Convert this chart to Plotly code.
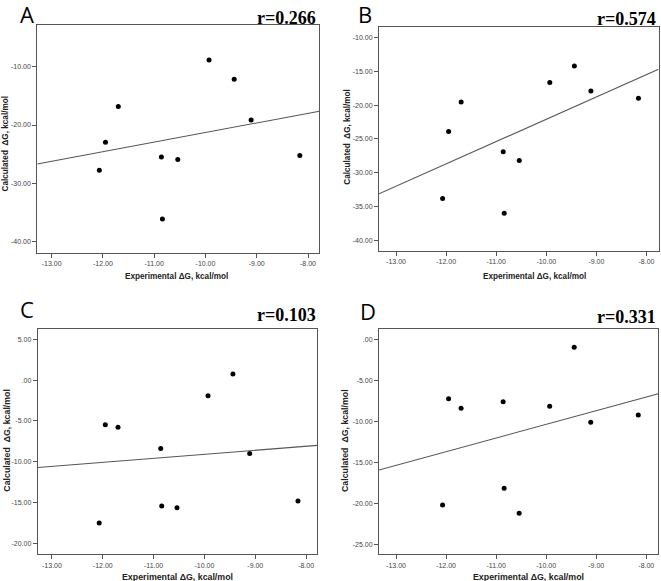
import numpy as np
import plotly.graph_objects as go

# ---- data ----
exp_dg = [-12.07, -11.95, -11.70, -10.86, -10.84, -10.54, -9.93, -9.44, -9.11, -8.16]
calc_a = [-27.77, -22.97, -16.80, -25.49, -36.11, -25.89, -8.86, -12.17, -19.14, -25.20]
calc_b = [-33.84, -23.89, -19.51, -26.90, -36.00, -28.18, -16.65, -14.19, -17.88, -18.97]
calc_c = [-17.52, -5.47, -5.76, -8.37, -15.44, -15.65, -1.92, 0.74, -8.99, -14.83]
calc_d = [-20.20, -7.24, -8.41, -7.60, -18.17, -21.22, -8.17, -0.98, -10.12, -9.23]

panel_letters = ["A", "B", "C", "D"]
r_labels = ["r=0.266", "r=0.574", "r=0.103", "r=0.331"]

x_tick_vals = [-13, -12, -11, -10, -9, -8]
x_tick_text = ["-13.00", "-12.00", "-11.00", "-10.00", "-9.00", "-8.00"]
y_tick_vals_a = [-10, -20, -30, -40]
y_tick_text_a = ["-10.00", "-20.00", "-30.00", "-40.00"]
y_tick_vals_b = [-10, -15, -20, -25, -30, -35, -40]
y_tick_text_b = ["-10.00", "-15.00", "-20.00", "-25.00", "-30.00", "-35.00", "-40.00"]
y_tick_vals_c = [5, 0, -5, -10, -15, -20]
y_tick_text_c = ["5.00", ".00", "-5.00", "-10.00", "-15.00", "-20.00"]
y_tick_vals_d = [0, -5, -10, -15, -20, -25]
y_tick_text_d = [".00", "-5.00", "-10.00", "-15.00", "-20.00", "-25.00"]

x_title = "Experimental ΔG, kcal/mol"
y_title = "Calculated  ΔG, kcal/mol"

# ---- layout geometry (pixels) ----
W, H = 661, 581
panels = [
    dict(y=calc_a, yt=(y_tick_vals_a, y_tick_text_a), xr=[-13.28, -7.78], yr=[-41.85, -2.85],
         box=(37.3, 319.3, 25.0, 252.5), letter=(27.5, 14.0), rlab=(318, 17.5),
         xt=(176.7, 276.7), ytp=(5.0, 143.5), tfs=8.2),
    dict(y=calc_b, yt=(y_tick_vals_b, y_tick_text_b), xr=[-13.34, -7.76], yr=[-41.6, -8.37],
         box=(379.0, 658.5, 26.7, 251.0), letter=(365.0, 14.0), rlab=(658, 19),
         xt=(534.0, 276.0), ytp=(348.0, 136.7), tfs=8.2),
    dict(y=calc_c, yt=(y_tick_vals_c, y_tick_text_c), xr=[-13.28, -7.78], yr=[-21.35, 6.27],
         box=(37.7, 317.3, 329.0, 554.3), letter=(26.5, 309.5), rlab=(318, 315),
         xt=(177.5, 577.0), ytp=(6.7, 440.0), tfs=8.8),
    dict(y=calc_d, yt=(y_tick_vals_d, y_tick_text_d), xr=[-13.34, -7.76], yr=[-26.22, 1.26],
         box=(379.0, 658.3, 329.0, 554.3), letter=(367.5, 311.0), rlab=(658, 317),
         xt=(528.0, 577.0), ytp=(345.0, 441.0), tfs=8.8),
]

fig = go.Figure()
annotations = []
for i, p in enumerate(panels):
    n = "" if i == 0 else str(i + 1)
    xa, ya = "x" + n, "y" + n
    x0, x1, y0, y1 = p["box"]
    axis_common = dict(showline=True, mirror=True, linecolor="#555555", linewidth=1,
                       ticks="outside", ticklen=4, tickcolor="#555555", tickwidth=1,
                       showgrid=False, zeroline=False, automargin=False,
                       tickfont=dict(family="Liberation Sans, Arial", size=7, color="#444444"))
    fig.layout["xaxis" + n] = dict(domain=[x0 / W, x1 / W], range=p["xr"], anchor=ya,
                                   tickvals=x_tick_vals, ticktext=x_tick_text, **axis_common)
    fig.layout["yaxis" + n] = dict(domain=[1 - y1 / H, 1 - y0 / H], range=p["yr"], anchor=xa,
                                   tickvals=p["yt"][0], ticktext=p["yt"][1], **axis_common)
    # scatter points
    fig.add_trace(go.Scatter(x=exp_dg, y=p["y"], mode="markers", xaxis=xa, yaxis=ya,
                             marker=dict(color="black", size=5), showlegend=False,
                             hoverinfo="x+y"))
    # least-squares fit line across the full x range
    slope, intercept = np.polyfit(exp_dg, p["y"], 1)
    lx = np.array(p["xr"])
    fig.add_trace(go.Scatter(x=lx, y=slope * lx + intercept, mode="lines", xaxis=xa, yaxis=ya,
                             line=dict(color="#555555", width=1.1), showlegend=False,
                             hoverinfo="skip"))
    # panel letter
    annotations.append(dict(text=panel_letters[i], xref="paper", yref="paper",
                            x=p["letter"][0] / W, y=1 - p["letter"][1] / H,
                            xanchor="center", yanchor="middle", showarrow=False,
                            font=dict(family="Open Sans, Liberation Sans", size=22, color="black")))
    # r label
    annotations.append(dict(text="<b>" + r_labels[i] + "</b>", xref="paper", yref="paper",
                            x=p["rlab"][0] / W, y=1 - p["rlab"][1] / H,
                            xanchor="right", yanchor="middle", showarrow=False,
                            font=dict(family="Liberation Serif, Times New Roman", size=18, color="black")))
    # axis titles
    annotations.append(dict(text="<b>" + x_title + "</b>", xref="paper", yref="paper",
                            x=p["xt"][0] / W, y=1 - p["xt"][1] / H,
                            xanchor="center", yanchor="middle", showarrow=False,
                            font=dict(family="Liberation Sans, Arial", size=p["tfs"], color="#222222")))
    annotations.append(dict(text="<b>" + y_title + "</b>", xref="paper", yref="paper",
                            x=p["ytp"][0] / W, y=1 - p["ytp"][1] / H, textangle=-90,
                            xanchor="center", yanchor="middle", showarrow=False,
                            font=dict(family="Liberation Sans, Arial", size=p["tfs"], color="#222222")))

fig.update_layout(width=W, height=H, margin=dict(l=0, r=0, t=0, b=0, pad=0),
                  paper_bgcolor="white", plot_bgcolor="white", template="none",
                  annotations=annotations, showlegend=False)

fig.write_html("out.html", config={"displayModeBar": False})

# remove default page margins so the figure fills the window exactly
with open("out.html", "r", encoding="utf-8") as f:
    html = f.read()
html = html.replace("<head>", "<head><style>html,body{margin:0;padding:0;overflow:hidden;}</style>", 1)
with open("out.html", "w", encoding="utf-8") as f:
    f.write(html)
